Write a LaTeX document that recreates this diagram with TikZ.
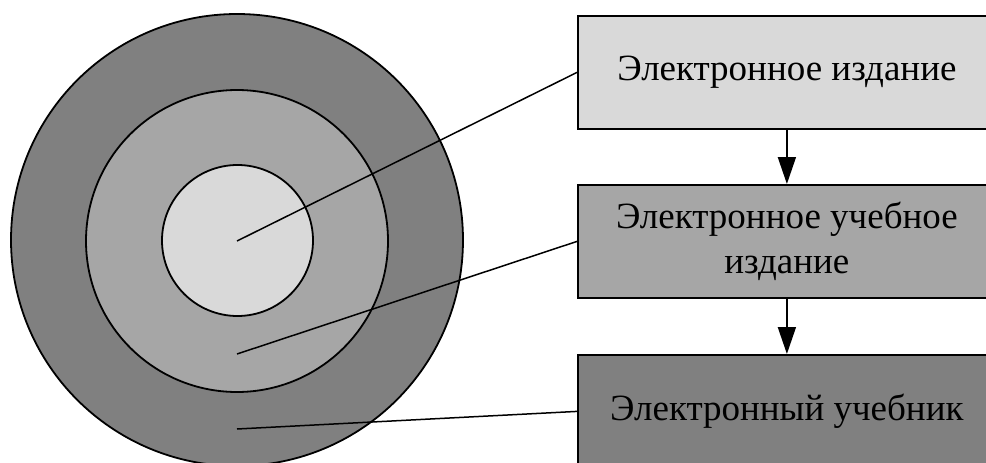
\documentclass[tikz,border=0pt]{standalone}
\usepackage{fontspec}
\setmainfont{Liberation Serif}
\usetikzlibrary{arrows.meta}
\definecolor{lightg}{HTML}{D9D9D9}
\definecolor{midg}{HTML}{A6A6A6}
\definecolor{darkg}{HTML}{808080}
\tikzset{
  ring/.style={circle, draw=black, line width=1.8pt, inner sep=0pt},
  box/.style={rectangle, draw=black, line width=1.8pt, inner sep=0pt, minimum width=418pt, minimum height=113pt, anchor=north west, align=center, font=\fontsize{37}{45}\selectfont},
  leader/.style={draw=black, line width=1.5pt},
  flow/.style={draw=black, line width=1.8pt, -{Triangle[length=27pt,width=18pt]}}
}
\begin{document}
\begin{tikzpicture}[x=1pt,y=-1pt]
\useasboundingbox (0,0) rectangle (986,463);
\clip (0,0) rectangle (986,463);
\fill[white] (0,0) rectangle (986,463);
\node[ring, fill=darkg, minimum size=452pt] (outer) at (237,240) {};
\node[ring, fill=midg, minimum size=302pt] (middle) at (237,241) {};
\node[ring, fill=lightg, minimum size=151pt] (inner) at (237.5,240.5) {};
\coordinate (p1) at (237,241);
\coordinate (p2) at (237,354);
\coordinate (p3) at (237,429);
\node[box, fill=lightg] (b1) at (577,15) {Электронное издание};
\node[box, fill=midg] (b2) at (577,184) {Электронное учебное\\издание};
\node[box, fill=darkg] (b3) at (577,354) {Электронный учебник};
\draw[leader] (p1) -- (b1.west);
\draw[leader] (p2) -- (b2.west);
\draw[leader] (p3) -- (b3.west);
\draw[flow] (b1.south) -- (b2.north);
\draw[flow] (b2.south) -- (b3.north);
\end{tikzpicture}
\end{document}
